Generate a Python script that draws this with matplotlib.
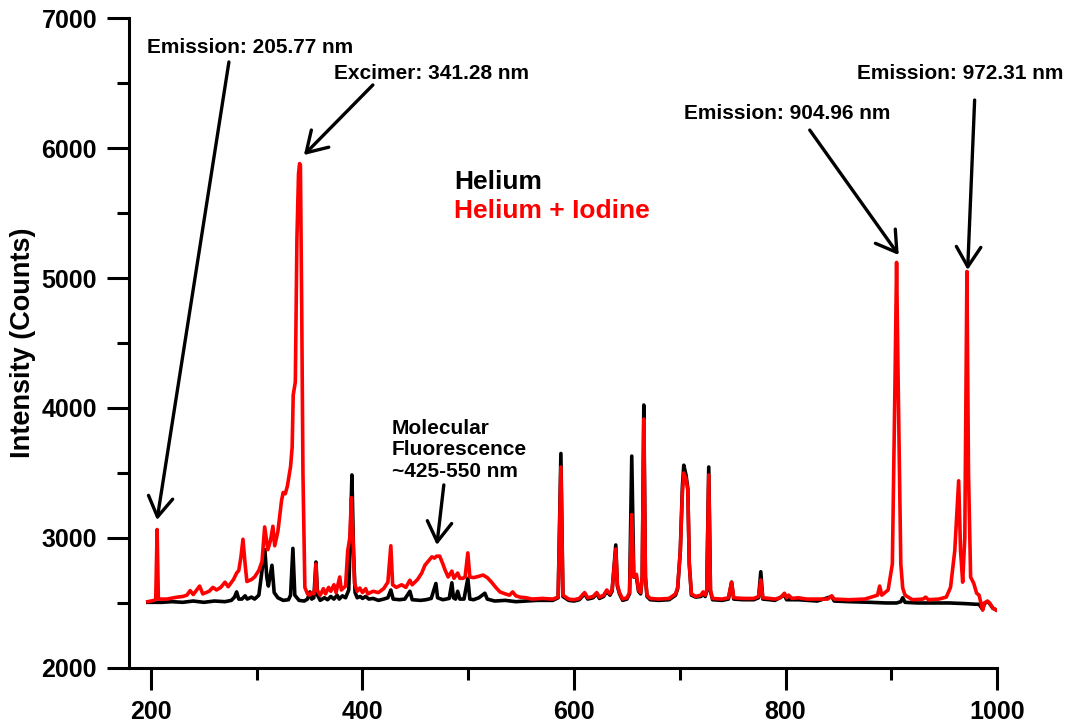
import matplotlib
matplotlib.use("Agg")
import matplotlib.pyplot as plt
from matplotlib.ticker import MultipleLocator

# ---------------- data ----------------
he_wavelength = [197, 210, 220, 230, 240, 250, 260, 270, 276, 279, 281, 283, 286, 289, 291, 295, 298,
                 302, 305, 307.7, 309.5, 311, 314.4, 316.5, 320, 325, 330, 332, 334.2, 336, 340, 345,
                 348, 350.3, 352, 354, 356, 357.5, 360, 364, 367, 370, 373, 376, 378, 381, 384, 387,
                 388.5, 390, 391.5, 393, 395, 398, 400, 403, 406, 410, 415, 420, 424, 426.8, 429, 435,
                 440, 444.8, 447, 455, 460, 465, 467.5, 469.4, 471, 476, 482, 484.5, 486, 488, 490, 492,
                 496, 499.6, 501.5, 505, 510, 515.7, 518, 525, 535, 545, 555, 565, 580, 585, 587.6,
                 589.5, 595, 600, 605, 610, 613, 618, 621.5, 624, 628, 631, 634, 636, 639.5, 641, 643,
                 646, 650, 652.5, 654.6, 656.5, 659, 661, 663, 664.5, 666, 667.5, 669, 672, 680, 690,
                 696, 698, 700.5, 702.5, 703.8, 706, 707.6, 709, 711, 715, 720, 722, 724, 725.5, 727.4,
                 729, 731, 740, 746, 749, 751, 760, 770, 774.5, 776.6, 778.5, 785, 790, 799, 801, 812,
                 830, 843.7, 846, 860, 880, 895, 905, 909, 910.8, 913, 925, 940, 955, 970, 980, 983,
                 986.4, 988, 991, 993, 996, 999.6]
he_counts = [2505, 2505, 2510, 2505, 2515, 2505, 2515, 2510, 2520, 2545, 2585, 2530, 2530, 2555, 2530,
             2545, 2530, 2560, 2750, 2910, 2700, 2630, 2790, 2580, 2540, 2520, 2525, 2560, 2920, 2560,
             2520, 2515, 2530, 2585, 2530, 2540, 2815, 2560, 2520, 2540, 2525, 2550, 2530, 2560, 2530,
             2555, 2540, 2600, 3000, 3485, 2900, 2580, 2540, 2550, 2535, 2550, 2530, 2535, 2520, 2530,
             2540, 2600, 2530, 2525, 2530, 2590, 2525, 2520, 2525, 2535, 2600, 2650, 2540, 2525, 2535,
             2655, 2540, 2530, 2590, 2530, 2530, 2690, 2530, 2525, 2540, 2575, 2530, 2515, 2520, 2510,
             2515, 2520, 2520, 2540, 3650, 2550, 2520, 2515, 2525, 2570, 2530, 2540, 2570, 2535, 2550,
             2590, 2560, 2590, 2946, 2630, 2570, 2520, 2530, 2570, 3630, 2700, 2700, 2590, 2570, 2700,
             4023, 2700, 2550, 2525, 2520, 2525, 2560, 2610, 2900, 3400, 3560, 3480, 3380, 2800, 2560,
             2545, 2550, 2575, 2550, 2590, 3546, 2590, 2525, 2520, 2530, 2660, 2530, 2525, 2525, 2540,
             2740, 2530, 2525, 2520, 2560, 2525, 2525, 2515, 2550, 2515, 2510, 2505, 2500, 2500, 2510,
             2540, 2505, 2500, 2500, 2500, 2495, 2490, 2490, 2450, 2495, 2510, 2495, 2460, 2445]

hei_wavelength = [197, 203, 204.5, 205.8, 207, 215, 225, 230, 234, 237, 240, 246, 249, 255, 258.6, 262,
                  266, 270, 273, 278, 281, 283, 285, 287, 289, 290.7, 295, 298, 302, 305, 307.5, 310.5,
                  313, 315.3, 317, 320, 323.5, 325, 327, 329, 332, 333.5, 334.5, 336.5, 338, 339.5,
                  340.5, 341.3, 342.5, 343.7, 345.5, 348, 350, 352, 354, 355, 356, 357, 360, 363, 365,
                  368, 370, 373, 375, 378.5, 380, 384, 386, 388, 389.5, 391, 392.5, 395, 397.5, 400,
                  403, 405, 410, 415, 420, 424, 426.8, 428.5, 432, 437, 441, 444.8, 447, 452, 456, 459,
                  462, 465.6, 468, 470, 473, 476, 478, 481, 484.5, 486.5, 490, 492, 495, 497, 499.6,
                  501.5, 505, 510, 514, 518, 522, 526, 530, 535, 539, 542, 545, 549, 555, 560, 570, 580,
                  585, 587.6, 589.5, 595, 600, 605, 610, 613, 618, 621.5, 624, 628, 631, 634, 636, 639.5,
                  641, 643, 646, 650, 652.5, 654.6, 656.5, 659, 661, 663, 664.5, 666, 667.5, 669, 672,
                  680, 690, 696, 698, 700.5, 702.5, 703.8, 706, 707.6, 709, 711, 715, 720, 722, 724,
                  725.5, 727.4, 729, 731, 740, 746, 749, 751, 760, 770, 774.5, 776.6, 778.5, 785, 790,
                  795, 799, 801, 803, 806, 812, 820, 830, 840, 843.7, 846, 860, 875, 887, 889, 891, 897,
                  901, 903.5, 905, 906.5, 909, 910.8, 913, 920, 930, 932.5, 935, 945, 952, 956, 960,
                  963.7, 965.5, 967.5, 969.5, 971.5, 973, 975, 978, 980.7, 983, 986.4, 988, 991, 993,
                  996, 999.6]
hei_counts = [2510, 2520, 2530, 3065, 2530, 2530, 2545, 2550, 2560, 2595, 2565, 2630, 2570, 2590, 2620,
              2600, 2620, 2660, 2625, 2680, 2730, 2750, 2850, 2990, 2800, 2665, 2680, 2700, 2750, 2820,
              3085, 2910, 2980, 3090, 2940, 3050, 3290, 3350, 3340, 3400, 3550, 3700, 4100, 4200, 5300,
              5800, 5880, 5870, 4800, 3500, 2620, 2570, 2560, 2580, 2570, 2620, 2800, 2600, 2560, 2610,
              2570, 2620, 2590, 2640, 2580, 2700, 2600, 2630, 2900, 3000, 3310, 3000, 2650, 2590, 2615,
              2580, 2610, 2570, 2590, 2580, 2610, 2660, 2940, 2640, 2620, 2640, 2620, 2675, 2640, 2680,
              2730, 2790, 2820, 2855, 2845, 2860, 2860, 2800, 2755, 2700, 2745, 2690, 2730, 2690, 2690,
              2700, 2885, 2700, 2695, 2705, 2715, 2695, 2660, 2620, 2585, 2570, 2560, 2585, 2555, 2545,
              2540, 2530, 2535, 2530, 2545, 3546, 2560, 2530, 2525, 2535, 2580, 2540, 2550, 2580, 2545,
              2560, 2600, 2570, 2600, 2915, 2640, 2580, 2530, 2540, 2580, 3180, 2700, 2720, 2600, 2580,
              2700, 3915, 2700, 2560, 2535, 2530, 2535, 2570, 2620, 2900, 3350, 3500, 3450, 3370, 2800,
              2570, 2550, 2560, 2585, 2560, 2600, 3485, 2600, 2535, 2530, 2540, 2660, 2540, 2535, 2535,
              2550, 2677, 2540, 2535, 2530, 2540, 2575, 2540, 2560, 2535, 2540, 2530, 2530, 2530, 2555,
              2530, 2525, 2530, 2560, 2630, 2560, 2600, 2800, 4200, 5120, 4200, 2800, 2615, 2560, 2525,
              2530, 2545, 2525, 2530, 2545, 2620, 2900, 3440, 2900, 2660, 3000, 5050, 3500, 2700, 2650,
              2575, 2560, 2445, 2500, 2515, 2500, 2460, 2445]

series_labels = ["Helium", "Helium + Iodine"]
series_colors = ["black", "red"]

x_limits = (179.2, 1000)
y_limits = (2000, 7000)
y_label = "Intensity (Counts)"

# annotation text, text anchor (nm, counts), arrow start, arrow tip
annot_texts = ["Emission: 205.77 nm", "Excimer: 341.28 nm", "Emission: 904.96 nm",
               "Emission: 972.31 nm", "Molecular\nFluorescence\n~425-550 nm"]
annot_text_pos = [(196.2, 6777), (373.0, 6577), (703.8, 6269), (867.3, 6577), (427.8, 3677)]
arrow_start = [(273.7, 6662), (409.8, 6485), (822.9, 6138), (978.8, 6369), (476.9, 3408)]
arrow_tip = [(205.7, 3138), (344.6, 5946), (907.0, 5177), (972.2, 5062), (470.3, 2946)]

legend_pos = [(486.4, 5738), (486.4, 5515)]

# ---------------- figure ----------------
plt.rcParams["font.family"] = ["Liberation Sans", "DejaVu Sans"]
plt.rcParams["font.weight"] = "bold"

fig = plt.figure(figsize=(10.65, 7.27), dpi=100)
ax = fig.add_axes([0.1211, 0.0812, 0.8151, 0.894])

ax.plot(he_wavelength, he_counts, color=series_colors[0], lw=2.6, solid_joinstyle="round", zorder=2)
ax.plot(hei_wavelength, hei_counts, color=series_colors[1], lw=2.6, solid_joinstyle="round", zorder=3)

ax.set_xlim(*x_limits)
ax.set_ylim(*y_limits)

for s in ["top", "right"]:
    ax.spines[s].set_visible(False)
for s in ["left", "bottom"]:
    ax.spines[s].set_linewidth(2.2)

ax.xaxis.set_major_locator(MultipleLocator(200))
ax.xaxis.set_minor_locator(MultipleLocator(100))
ax.yaxis.set_major_locator(MultipleLocator(1000))
ax.yaxis.set_minor_locator(MultipleLocator(500))
ax.tick_params(which="major", direction="out", length=16, width=2.2, labelsize=18, pad=7)
ax.tick_params(which="minor", direction="out", length=8.5, width=2.2)
ax.tick_params(axis="y", which="major", pad=7)
for lab in ax.get_xticklabels() + ax.get_yticklabels():
    lab.set_fontweight("bold")

ax.set_ylabel(y_label, fontsize=19.5, fontweight="bold", labelpad=4)

for txt, pos, a0, a1 in zip(annot_texts, annot_text_pos, arrow_start, arrow_tip):
    ax.text(pos[0], pos[1], txt, fontsize=15, fontweight="bold", ha="left", va="center",
            linespacing=1.15, zorder=5)
    ax.annotate("", xy=a1, xytext=a0,
                arrowprops=dict(arrowstyle="->,head_length=0.65,head_width=0.4", lw=2.4,
                                color="black", shrinkA=0, shrinkB=0, mutation_scale=22),
                zorder=5)

for lbl, col, pos in zip(series_labels, series_colors, legend_pos):
    ax.text(pos[0], pos[1], lbl, color=col, fontsize=19, fontweight="bold", ha="left", va="center")

fig.savefig("out.png", dpi=100)
